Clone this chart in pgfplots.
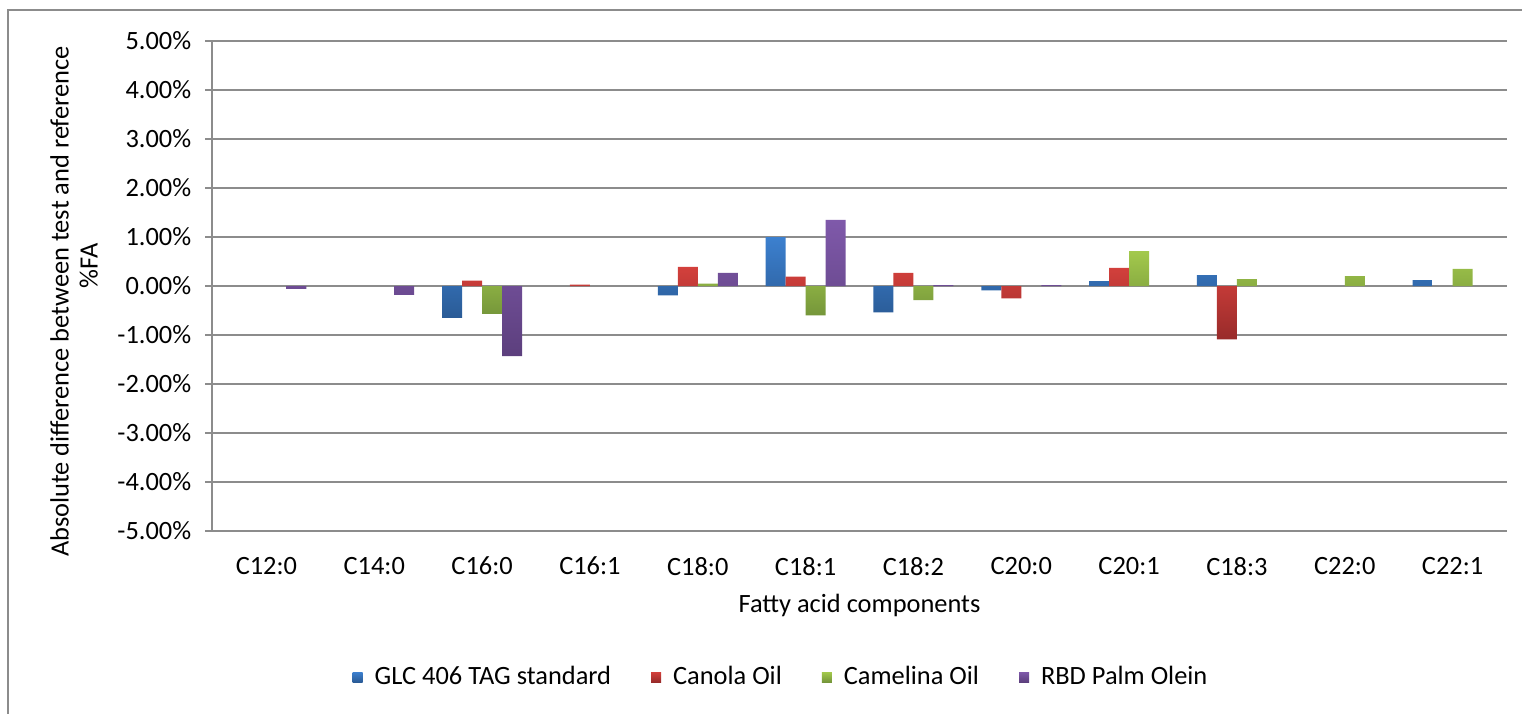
\documentclass[border=0pt]{standalone}
\usepackage{pgfplots}
\pgfplotsset{compat=1.18}
\usepackage{fontspec}
\setmainfont{Carlito}

\definecolor{gridgray}{HTML}{8C8C8C}
\definecolor{blueT}{HTML}{3C80CF}
\definecolor{blueB}{HTML}{2A5B96}
\definecolor{redT}{HTML}{D3403C}
\definecolor{redB}{HTML}{982B2A}
\definecolor{greenT}{HTML}{A3C94C}
\definecolor{greenB}{HTML}{75963A}
\definecolor{purpT}{HTML}{7F59AA}
\definecolor{purpB}{HTML}{5C3F7D}

\begin{document}
\begin{tikzpicture}[font=\fontsize{13.2pt}{14.5pt}\selectfont]
\useasboundingbox (-106.25pt,-91pt) rectangle (654.75pt,265.5pt);
% outer chart frame (left and top edges)
\draw[gridgray, line width=1pt] (-102.25pt,-95pt) -- (-102.25pt,260.5pt) -- (660pt,260.5pt);
\begin{axis}[
  at={(0pt,0pt)}, anchor=south west,
  scale only axis, width=647pt, height=245pt,
  ybar=0pt, bar width=10pt,
  xmin=-0.5, xmax=11.5, ymin=-5, ymax=5,
  xtick={0,...,11},
  xticklabels={C12:0,C14:0,C16:0,C16:1,C18:0,C18:1,C18:2,C20:0,C20:1,C18:3,C22:0,C22:1},
  ytick={-5,...,5},
  yticklabels={-5.00\%,-4.00\%,-3.00\%,-2.00\%,-1.00\%,0.00\%,1.00\%,2.00\%,3.00\%,4.00\%,5.00\%},
  separate axis lines,
  axis x line*=bottom, axis y line*=left,
  axis line style={gridgray, line width=1pt, -},
  ymajorgrids, grid style={gridgray, line width=1pt},
  tick align=outside, major tick length=3.5pt,
  ytick style={gridgray, line width=1pt},
  xtick style={draw=none},
  xticklabel style={yshift=-6pt},
  yticklabel style={xshift=-3.6pt},
  xlabel={Fatty acid components},
  xlabel style={at={(axis description cs:0.5,-0.151)}, anchor=center},
  ylabel={Absolute difference between test and reference\\\hspace*{36pt}\%FA},
  ylabel style={at={(axis description cs:-0.107,0.468)}, anchor=center, align=center},
  legend columns=4,
  legend style={at={(axis description cs:0.4386,-0.298)}, anchor=center,
    draw=none, fill=none, nodes={inner xsep=0pt},
    /tikz/every odd column/.append style={column sep=6pt},
    /tikz/every even column/.append style={column sep=20pt}},
  legend image code/.code={\path[#1, draw=none] (0pt,-2.5pt) rectangle (5pt,2.5pt);},
]
% GLC 406 TAG standard
\addplot[draw=none, top color=blueT, bottom color=blueB] coordinates {
  (2,-0.65) (4,-0.19) (5,1.00) (6,-0.54) (7,-0.09) (8,0.10) (9,0.22) (11,0.12)};
% Canola Oil
\addplot[draw=none, top color=redT, bottom color=redB] coordinates {
  (2,0.11) (3,0.03) (4,0.39) (5,0.19) (6,0.27) (7,-0.25) (8,0.37) (9,-1.09)};
% Camelina Oil
\addplot[draw=none, top color=greenT, bottom color=greenB] coordinates {
  (2,-0.57) (4,0.05) (5,-0.60) (6,-0.29) (8,0.71) (9,0.14) (10,0.20) (11,0.35)};
% RBD Palm Olein
\addplot[draw=none, top color=purpT, bottom color=purpB] coordinates {
  (0,-0.06) (1,-0.18) (2,-1.43) (4,0.27) (5,1.35) (6,0.02) (7,0.02)};
\legend{GLC 406 TAG standard, Canola Oil, Camelina Oil, RBD Palm Olein}
\end{axis}
\end{tikzpicture}
\end{document}
